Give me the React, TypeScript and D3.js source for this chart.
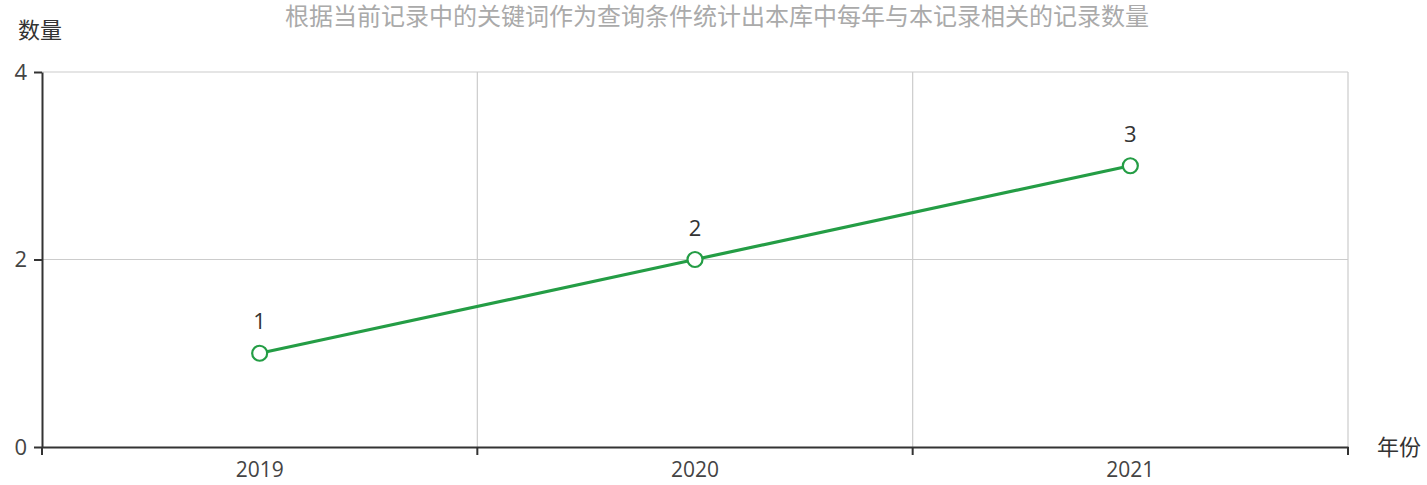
import { useEffect, useRef } from "react";
import * as d3 from "d3";

const years = ["2019", "2020", "2021"];
const counts = [1, 2, 3];
const yTicks = [0, 2, 4];

const TITLE = "根据当前记录中的关键词作为查询条件统计出本库中每年与本记录相关的记录数量";
const FONT = "'Open Sans', 'Noto Sans CJK SC', sans-serif";
const GREEN = "#249d45";

export default function App() {
	const ref = useRef<SVGSVGElement>(null);

	useEffect(() => {
		const svg = d3.select(ref.current);
		svg.selectAll("*").remove();

		const width = 1427;
		const height = 485;
		const margin = { top: 72, right: 79, bottom: 38, left: 42 };
		const innerW = width - margin.left - margin.right;
		const innerH = height - margin.top - margin.bottom;

		const g = svg.append("g")
			.attr("transform", `translate(${margin.left},${margin.top})`);

		const x = d3.scaleBand().domain(years).range([0, innerW]);
		const y = d3.scaleLinear().domain([0, 4]).range([innerH, 0]);

		// title
		svg.append("text")
			.attr("x", 717)
			.attr("y", 25)
			.attr("text-anchor", "middle")
			.attr("font-size", "24px")
			.attr("font-family", FONT)
			.attr("fill", "#aaa")
			.text(TITLE);

		// horizontal grid
		g.append("g")
			.selectAll("line")
			.data(yTicks.filter(d => d > 0))
			.join("line")
			.attr("x1", 0)
			.attr("x2", innerW)
			.attr("y1", d => y(d))
			.attr("y2", d => y(d))
			.attr("stroke", "#ccc")
			.attr("stroke-width", 1.2);

		// vertical grid at category boundaries
		const bounds = years.map(d => x(d)! + x.bandwidth());
		g.append("g")
			.selectAll("line")
			.data(bounds)
			.join("line")
			.attr("x1", d => d)
			.attr("x2", d => d)
			.attr("y1", 0)
			.attr("y2", innerH)
			.attr("stroke", "#ccc")
			.attr("stroke-width", 1.2);

		// y axis
		const yAxis = g.append("g")
			.call(d3.axisLeft(y).tickValues(yTicks).tickFormat(d3.format("d")).tickSize(8).tickPadding(7).tickSizeOuter(0));
		yAxis.select(".domain").attr("stroke", "#333").attr("stroke-width", 2);
		yAxis.selectAll(".tick line").attr("stroke", "#333").attr("stroke-width", 2);
		yAxis.selectAll(".tick text")
			.attr("font-size", "22px")
			.attr("font-family", FONT)
			.attr("fill", "#444");

		// x axis
		const xAxis = g.append("g")
			.attr("transform", `translate(0,${innerH})`)
			.call(d3.axisBottom(x).tickSize(0).tickPadding(15));
		xAxis.select(".domain").attr("stroke", "#333").attr("stroke-width", 2);
		xAxis.selectAll(".tick text")
			.attr("font-size", "21px")
			.attr("font-family", FONT)
			.attr("fill", "#444");
		xAxis.append("g")
			.selectAll("line")
			.data([0, ...bounds])
			.join("line")
			.attr("x1", d => d)
			.attr("x2", d => d)
			.attr("y1", 0)
			.attr("y2", 8)
			.attr("stroke", "#333")
			.attr("stroke-width", 2);

		// axis names
		svg.append("text")
			.attr("x", 18)
			.attr("y", 38)
			.attr("font-size", "22px")
			.attr("font-family", FONT)
			.attr("fill", "#333")
			.text("数量");

		svg.append("text")
			.attr("x", 1377)
			.attr("y", margin.top + innerH + 8)
			.attr("font-size", "22px")
			.attr("font-family", FONT)
			.attr("fill", "#333")
			.text("年份");

		const cx = (d: string) => x(d)! + x.bandwidth() / 2;

		// line
		const line = d3.line<number>()
			.x((_, i) => cx(years[i]))
			.y(d => y(d));

		g.append("path")
			.datum(counts)
			.attr("d", line)
			.attr("fill", "none")
			.attr("stroke", GREEN)
			.attr("stroke-width", 3.2);

		g.selectAll("circle.pt")
			.data(counts)
			.join("circle")
			.attr("class", "pt")
			.attr("cx", (_, i) => cx(years[i]))
			.attr("cy", d => y(d))
			.attr("r", 7.5)
			.attr("fill", "#fff")
			.attr("stroke", GREEN)
			.attr("stroke-width", 2.2);

		g.selectAll("text.lbl")
			.data(counts)
			.join("text")
			.attr("class", "lbl")
			.attr("x", (_, i) => cx(years[i]))
			.attr("y", d => y(d) - 24)
			.attr("text-anchor", "middle")
			.attr("font-size", "22px")
			.attr("font-family", FONT)
			.attr("fill", "#333")
			.text(d => d);
	}, []);

	return (
		<svg
			ref={ref}
			width={1427}
			height={485}
			style={{ position: "absolute", left: 0, top: 0, background: "#fff" }}
		/>
	);
}
